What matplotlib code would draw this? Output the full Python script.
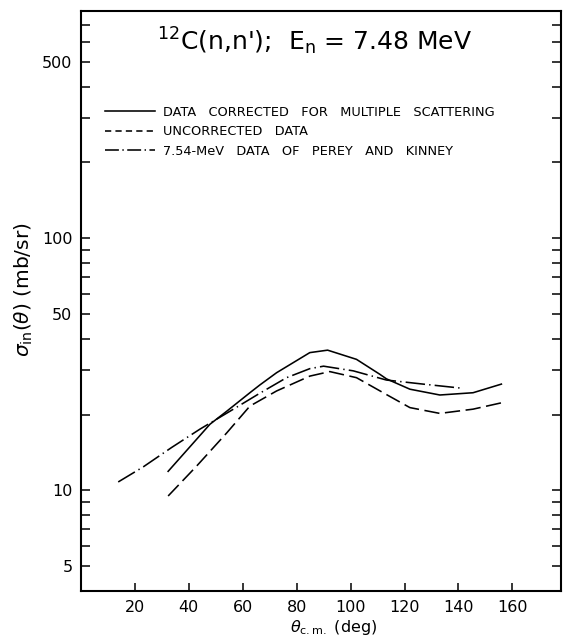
import numpy as np
import matplotlib
matplotlib.use("Agg")
import matplotlib.pyplot as plt
from matplotlib.lines import Line2D
from matplotlib.ticker import FixedLocator, NullFormatter

plt.rcParams['font.family'] = ['DejaVu Sans']
plt.rcParams['lines.scale_dashes'] = False

# data corrected for multiple scattering (solid)
theta_corr = [32.4, 47.9, 54.1, 62.7, 66.4, 72.6, 84.9, 91.5, 102.2, 110.8, 113.3, 122.0, 133.1, 145.4, 155.9]
sigma_corr = [11.9, 18.3, 20.6, 24.4, 26.2, 29.3, 35.2, 36.0, 33.1, 28.9, 27.7, 25.2, 23.9, 24.4, 26.4]

# uncorrected data (dashed)
theta_unc = [32.4, 43.0, 54.1, 62.7, 72.6, 84.9, 92.3, 102.2, 113.3, 122.0, 133.1, 145.4, 157.1]
sigma_unc = [9.5, 12.5, 16.9, 21.6, 24.8, 28.4, 29.6, 28.0, 24.0, 21.3, 20.2, 21.0, 22.4]

# 7.54-MeV data of Perey and Kinney (dash-dot)
theta_pk = [13.9, 23.2, 33.7, 44.2, 55.3, 66.4, 76.3, 84.9, 90.0, 101.0, 113.3, 126.9, 141.7]
sigma_pk = [10.8, 12.4, 14.8, 17.5, 20.6, 24.3, 28.0, 30.4, 31.1, 29.8, 27.4, 26.4, 25.4]

legend_labels = ["DATA   CORRECTED   FOR   MULTIPLE   SCATTERING",
                 "UNCORRECTED   DATA",
                 "7.54-MeV   DATA   OF   PEREY   AND   KINNEY"]

x_ticks = [20, 40, 60, 80, 100, 120, 140, 160]
y_major = [5, 10, 50, 100, 500]
y_minor = [6, 7, 8, 9, 20, 30, 40, 60, 70, 80, 90, 200, 300, 400, 600, 700]

fig = plt.figure(figsize=(5.66, 6.39), dpi=100)
ax = fig.add_axes([0.1426, 0.0756, 0.8486, 0.9077])

lw = 1.15
ax.plot(theta_corr, sigma_corr, color='black', lw=lw)
ax.plot(theta_unc, sigma_unc, color='black', lw=lw, linestyle=(0, (11, 4)))
ax.plot(theta_pk, sigma_pk, color='black', lw=lw, linestyle=(0, (14, 3, 1, 3)))

ax.set_yscale('log')
ax.set_xlim(0, 178)
ax.set_ylim(4, 800)

ax.xaxis.set_major_locator(FixedLocator(x_ticks))
ax.xaxis.set_minor_locator(FixedLocator([]))
ax.set_xticklabels([str(t) for t in x_ticks])
ax.yaxis.set_major_locator(FixedLocator(y_major))
ax.yaxis.set_minor_locator(FixedLocator(y_minor))
ax.set_yticklabels([str(t) for t in y_major])
ax.yaxis.set_minor_formatter(NullFormatter())

ax.tick_params(axis='y', which='both', direction='in', length=6.5, width=1.1,
               left=True, right=True, labelsize=11.5, pad=6)
ax.tick_params(axis='x', which='both', direction='in', length=6, width=1.1,
               top=False, labelsize=11.5, pad=7)
for s in ax.spines.values():
    s.set_linewidth(1.5)

ax.text(0.487, 0.931, r"$^\mathregular{12}$C(n,n');  E$_\mathregular{n}$ = 7.48 MeV",
        transform=ax.transAxes, ha='center', va='baseline', fontsize=18)

handles = [Line2D([], [], color='black', lw=lw),
           Line2D([], [], color='black', lw=lw, linestyle=(0, (4.5, 3))),
           Line2D([], [], color='black', lw=lw, linestyle=(0, (10, 2.5, 1, 2.5)))]
ax.legend(handles, legend_labels, loc='upper left', bbox_to_anchor=(0.04, 0.845),
          frameon=False, fontsize=9.3, handlelength=3.9, handletextpad=0.55,
          labelspacing=0.5, borderaxespad=0)

ax.set_ylabel(r"$\sigma_\mathregular{in}(\theta)$ (mb/sr)", fontsize=14.5)
ax.yaxis.set_label_coords(-0.095, 0.518)
ax.set_xlabel(r"$\theta_\mathregular{c.m.}$ (deg)", fontsize=11.5)
ax.xaxis.set_label_coords(0.526, -0.047)

fig.savefig("out.png", dpi=100)
